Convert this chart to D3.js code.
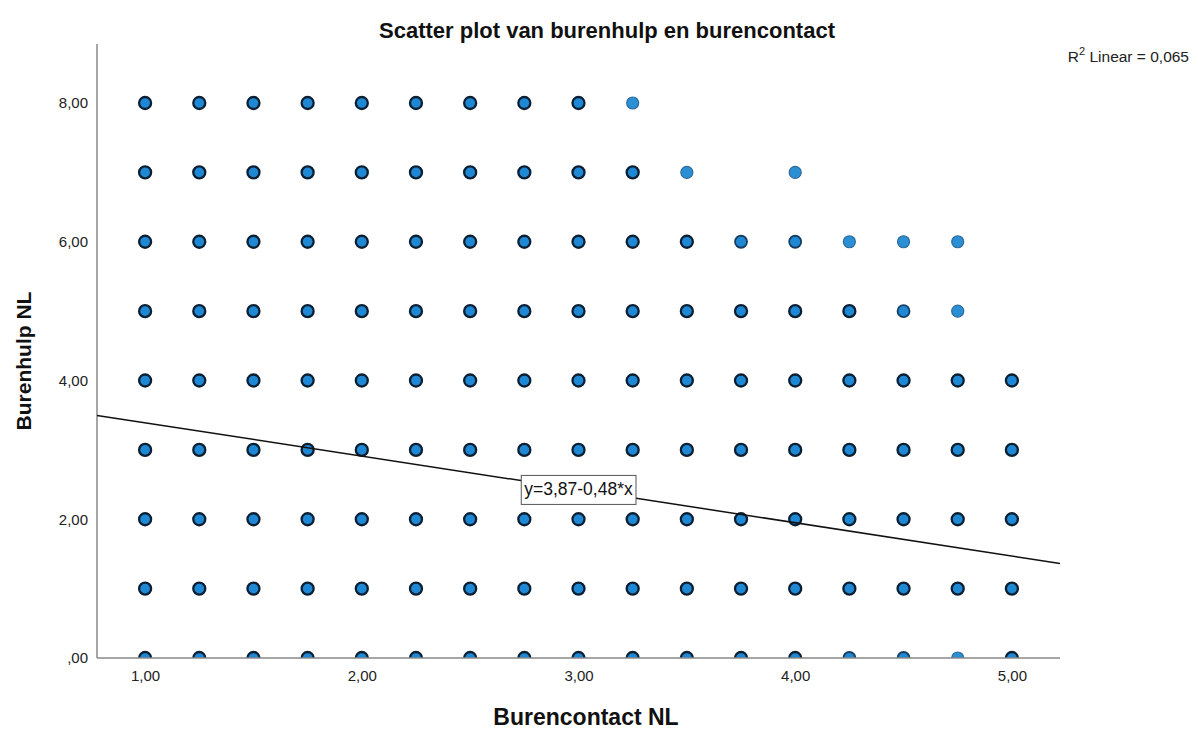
<!DOCTYPE html>
<html><head><meta charset="utf-8">
<script src="https://cdn.jsdelivr.net/npm/d3@7"></script>
<style>body{margin:0;background:#fff;} text{font-family:"Liberation Sans",Arial,sans-serif;}</style>
</head><body><svg id="c" width="1198" height="731"></svg>
<script>
// Data
const yLevels = [8, 7, 6, 5, 4, 3, 2, 1, 0];
const xMaxPerLevel = [3.25, 3.5, 4.75, 4.75, 5, 5, 5, 5, 5];
const row7Extra = [4.0];              // isolated point on y=7
const sparsePoints = [[3.25, 8], [3.5, 7], [4.0, 7], [4.25, 6], [4.5, 6], [4.75, 6], [4.75, 5], [4.75, 0]];
const mediumPoints = [[3.75, 6], [4.0, 6], [4.5, 5], [4.5, 0], [4.25, 0]];
const xTicks = [1, 2, 3, 4, 5];
const xTickLabels = ["1,00", "2,00", "3,00", "4,00", "5,00"];
const yTicks = [0, 2, 4, 6, 8];
const yTickLabels = [",00", "2,00", "4,00", "6,00", "8,00"];
const intercept = 3.87, slope = -0.48;
const r2Text = "0,065";
const eqText = "y=3,87-0,48*x";

const points = [];
yLevels.forEach((yv, i) => {
  for (let k = 0; 1 + k * 0.25 <= xMaxPerLevel[i] + 1e-9; k++) points.push([1 + k * 0.25, yv]);
});
row7Extra.forEach(xv => points.push([xv, 7]));

const FONT = "Liberation Sans, Arial, sans-serif";
const svg = d3.select("#c");
const pLeft = 97, pRight = 1060, pTop = 44, pBottom = 658;
const x = d3.scaleLinear().domain([0.778, 5.222]).range([pLeft, pRight]);
const y = d3.scaleLinear().domain([0, 8]).range([pBottom, 103]);

svg.append("defs").append("clipPath").attr("id", "pc")
  .append("rect").attr("x", pLeft).attr("y", pTop).attr("width", pRight - pLeft).attr("height", pBottom - pTop);

// axes
const xAxis = d3.axisBottom(x).tickValues(xTicks).tickFormat((d, i) => xTickLabels[i]).tickSize(0).tickPadding(12);
const gx = svg.append("g").attr("transform", `translate(0,${pBottom})`).call(xAxis)
  .attr("font-size", 15).attr("font-family", FONT);
gx.select(".domain").remove();
gx.selectAll("text").attr("fill", "#222");

const yAxis = d3.axisLeft(y).tickValues(yTicks).tickFormat((d, i) => yTickLabels[i]).tickSize(0).tickPadding(9);
const gy = svg.append("g").attr("transform", `translate(${pLeft},0)`).call(yAxis)
  .attr("font-size", 15).attr("font-family", FONT);
gy.select(".domain").remove();
gy.selectAll("text").attr("fill", "#222");

svg.append("line").attr("x1", pLeft).attr("x2", pLeft).attr("y1", pTop).attr("y2", pBottom).attr("stroke", "#888").attr("stroke-width", 1.5);

const key = p => p[0] + "_" + p[1];
const sparse = new Set(sparsePoints.map(key));
const medium = new Set(mediumPoints.map(key));

const plot = svg.append("g").attr("clip-path", "url(#pc)");
plot.selectAll("circle").data(points).join("circle")
  .attr("cx", d => x(d[0])).attr("cy", d => y(d[1])).attr("r", 6)
  .attr("fill", d => sparse.has(key(d)) ? "#2b8fd6" : "#1f88d4")
  .attr("stroke", d => sparse.has(key(d)) ? "#2f6a98" : (medium.has(key(d)) ? "#173e60" : "#0b1f33"))
  .attr("stroke-width", d => sparse.has(key(d)) ? 1.2 : (medium.has(key(d)) ? 1.8 : 2.3));

svg.append("line").attr("x1", pLeft).attr("x2", pRight).attr("y1", pBottom).attr("y2", pBottom).attr("stroke", "#888").attr("stroke-width", 1.5);

// regression line
const xd = x.domain();
svg.append("line")
  .attr("x1", x(xd[0])).attr("y1", y(intercept + slope * xd[0]))
  .attr("x2", x(xd[1])).attr("y2", y(intercept + slope * xd[1]))
  .attr("stroke", "#111").attr("stroke-width", 1.5);

// equation label
const lx = x(3), ly = y(intercept + slope * 3);
const eg = svg.append("g");
const et = eg.append("text").attr("x", lx).attr("y", ly + 6).attr("text-anchor", "middle").attr("font-size", 17.5).attr("fill", "#111").text(eqText);
const bb = et.node().getBBox();
eg.insert("rect", "text").attr("x", bb.x - 3).attr("y", ly - 14).attr("width", bb.width + 6).attr("height", 29)
  .attr("fill", "#fff").attr("stroke", "#555").attr("stroke-width", 1);

// titles
svg.append("text").attr("x", 607).attr("y", 38).attr("text-anchor", "middle").attr("font-size", 22).attr("font-weight", "bold").attr("fill", "#111")
  .text("Scatter plot van burenhulp en burencontact");
svg.append("text").attr("x", 586).attr("y", 725).attr("text-anchor", "middle").attr("font-size", 23).attr("font-weight", "bold").attr("fill", "#111")
  .text("Burencontact NL");
svg.append("text").attr("transform", "translate(31,361) rotate(-90)").attr("text-anchor", "middle").attr("font-size", 21).attr("font-weight", "bold").attr("fill", "#111")
  .text("Burenhulp NL");

const r2 = svg.append("text").attr("x", 1189).attr("y", 62).attr("text-anchor", "end").attr("font-size", 15.5).attr("fill", "#222");
r2.append("tspan").text("R");
r2.append("tspan").attr("font-size", 11).attr("dy", -7).text("2");
r2.append("tspan").attr("dy", 7).text(" Linear = " + r2Text);
</script></body></html>
